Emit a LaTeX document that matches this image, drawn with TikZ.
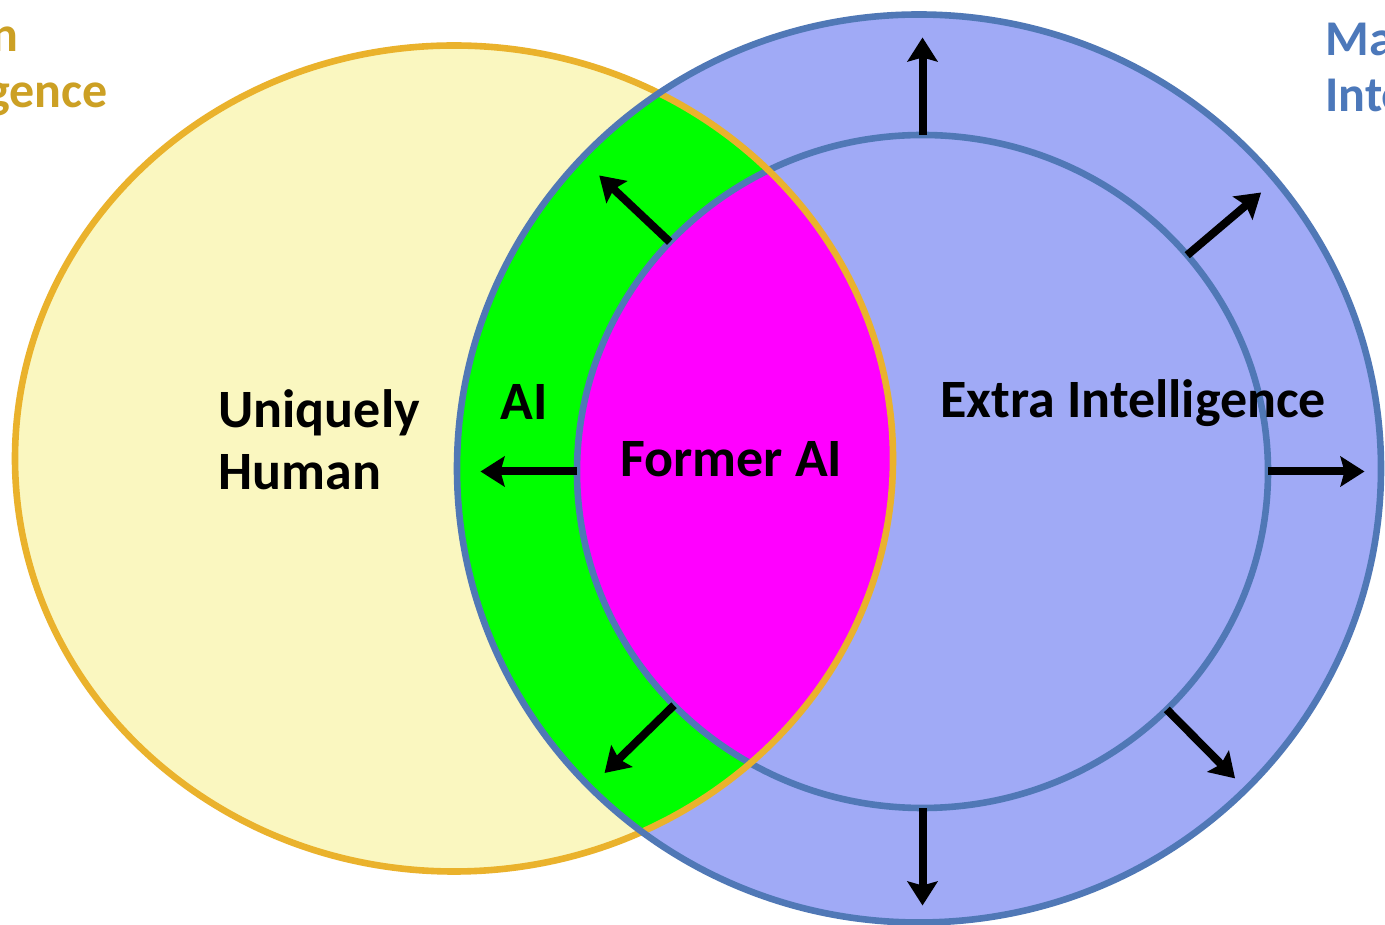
\documentclass[tikz,border=0pt]{standalone}
\usepackage{fontspec}
\setmainfont{Carlito}
\usetikzlibrary{arrows.meta,calc}

\definecolor{humanfill}{RGB}{250,247,192}
\definecolor{humanline}{RGB}{234,178,44}
\definecolor{machfill}{RGB}{160,170,246}
\definecolor{machline}{RGB}{80,120,182}
\definecolor{aigreen}{RGB}{0,255,0}
\definecolor{formermag}{RGB}{255,0,255}
\definecolor{humantext}{RGB}{204,160,36}
\definecolor{machtext}{RGB}{76,120,186}

\tikzset{
  ringline/.style={line width=3.3pt},
  outarrow/.style={line width=4pt, black, -{Stealth[length=12pt,width=15pt,inset=2pt]}},
  regiontxt/.style={font=\fontsize{27}{31}\selectfont\bfseries, inner sep=0pt, align=left},
  cornertxt/.style={font=\fontsize{25}{28}\selectfont\bfseries, inner sep=0pt, align=left},
}

\begin{document}
\begin{tikzpicture}[x=0.5pt,y=0.5pt]
  \clip (0,0) rectangle (1385,925);
  \fill[white] (0,0) rectangle (1385,925);

  % centres of the human ellipse, the machine disc and its inner core
  \coordinate (hc) at (454,466.5);
  \coordinate (mc) at (919,456.5);
  \coordinate (ic) at (922.5,453.5);

  % fills
  \fill[humanfill] (hc) ellipse [x radius=439, y radius=413];
  \fill[machfill] (mc) ellipse [x radius=462, y radius=454];
  \begin{scope}
    \clip (hc) ellipse [x radius=439, y radius=413];
    \fill[aigreen] (mc) ellipse [x radius=462, y radius=454];
    \fill[formermag] (ic) ellipse [x radius=345.5, y radius=336.5];
  \end{scope}

  % outlines
  \draw[ringline, machline] (ic) ellipse [x radius=345.5, y radius=336.5];
  \draw[ringline, humanline] (hc) ellipse [x radius=439, y radius=413];
  \draw[ringline, machline] (mc) ellipse [x radius=462, y radius=454];

  % outward growth arrows from the inner core
  \foreach \a in {90,40,0,-45,-90,-136,180,137}{
    \draw[outarrow] ($(ic)+({345.5*cos(\a)},{336.5*sin(\a)})$)
             -- ($(ic)+({442*cos(\a)},{434*sin(\a)})$);
  }

  % labels (base anchor sits on the last line)
  \node[regiontxt, anchor=base west] (uh) at (218,435) {Uniquely\\Human};
  \node[regiontxt, anchor=base west] (ai) at (500,505) {AI};
  \node[regiontxt, anchor=base west] (fai) at (620,448) {Former AI};
  \node[regiontxt, anchor=base west] (xi) at (940,507) {Extra Intelligence};
  \node[cornertxt, anchor=base east, text=humantext] (hi) at (108,817) {Human\\Intelligence};
  \node[cornertxt, anchor=base west, text=machtext] (mi) at (1325,813) {Machine\\Intelligence};
\end{tikzpicture}
\end{document}
